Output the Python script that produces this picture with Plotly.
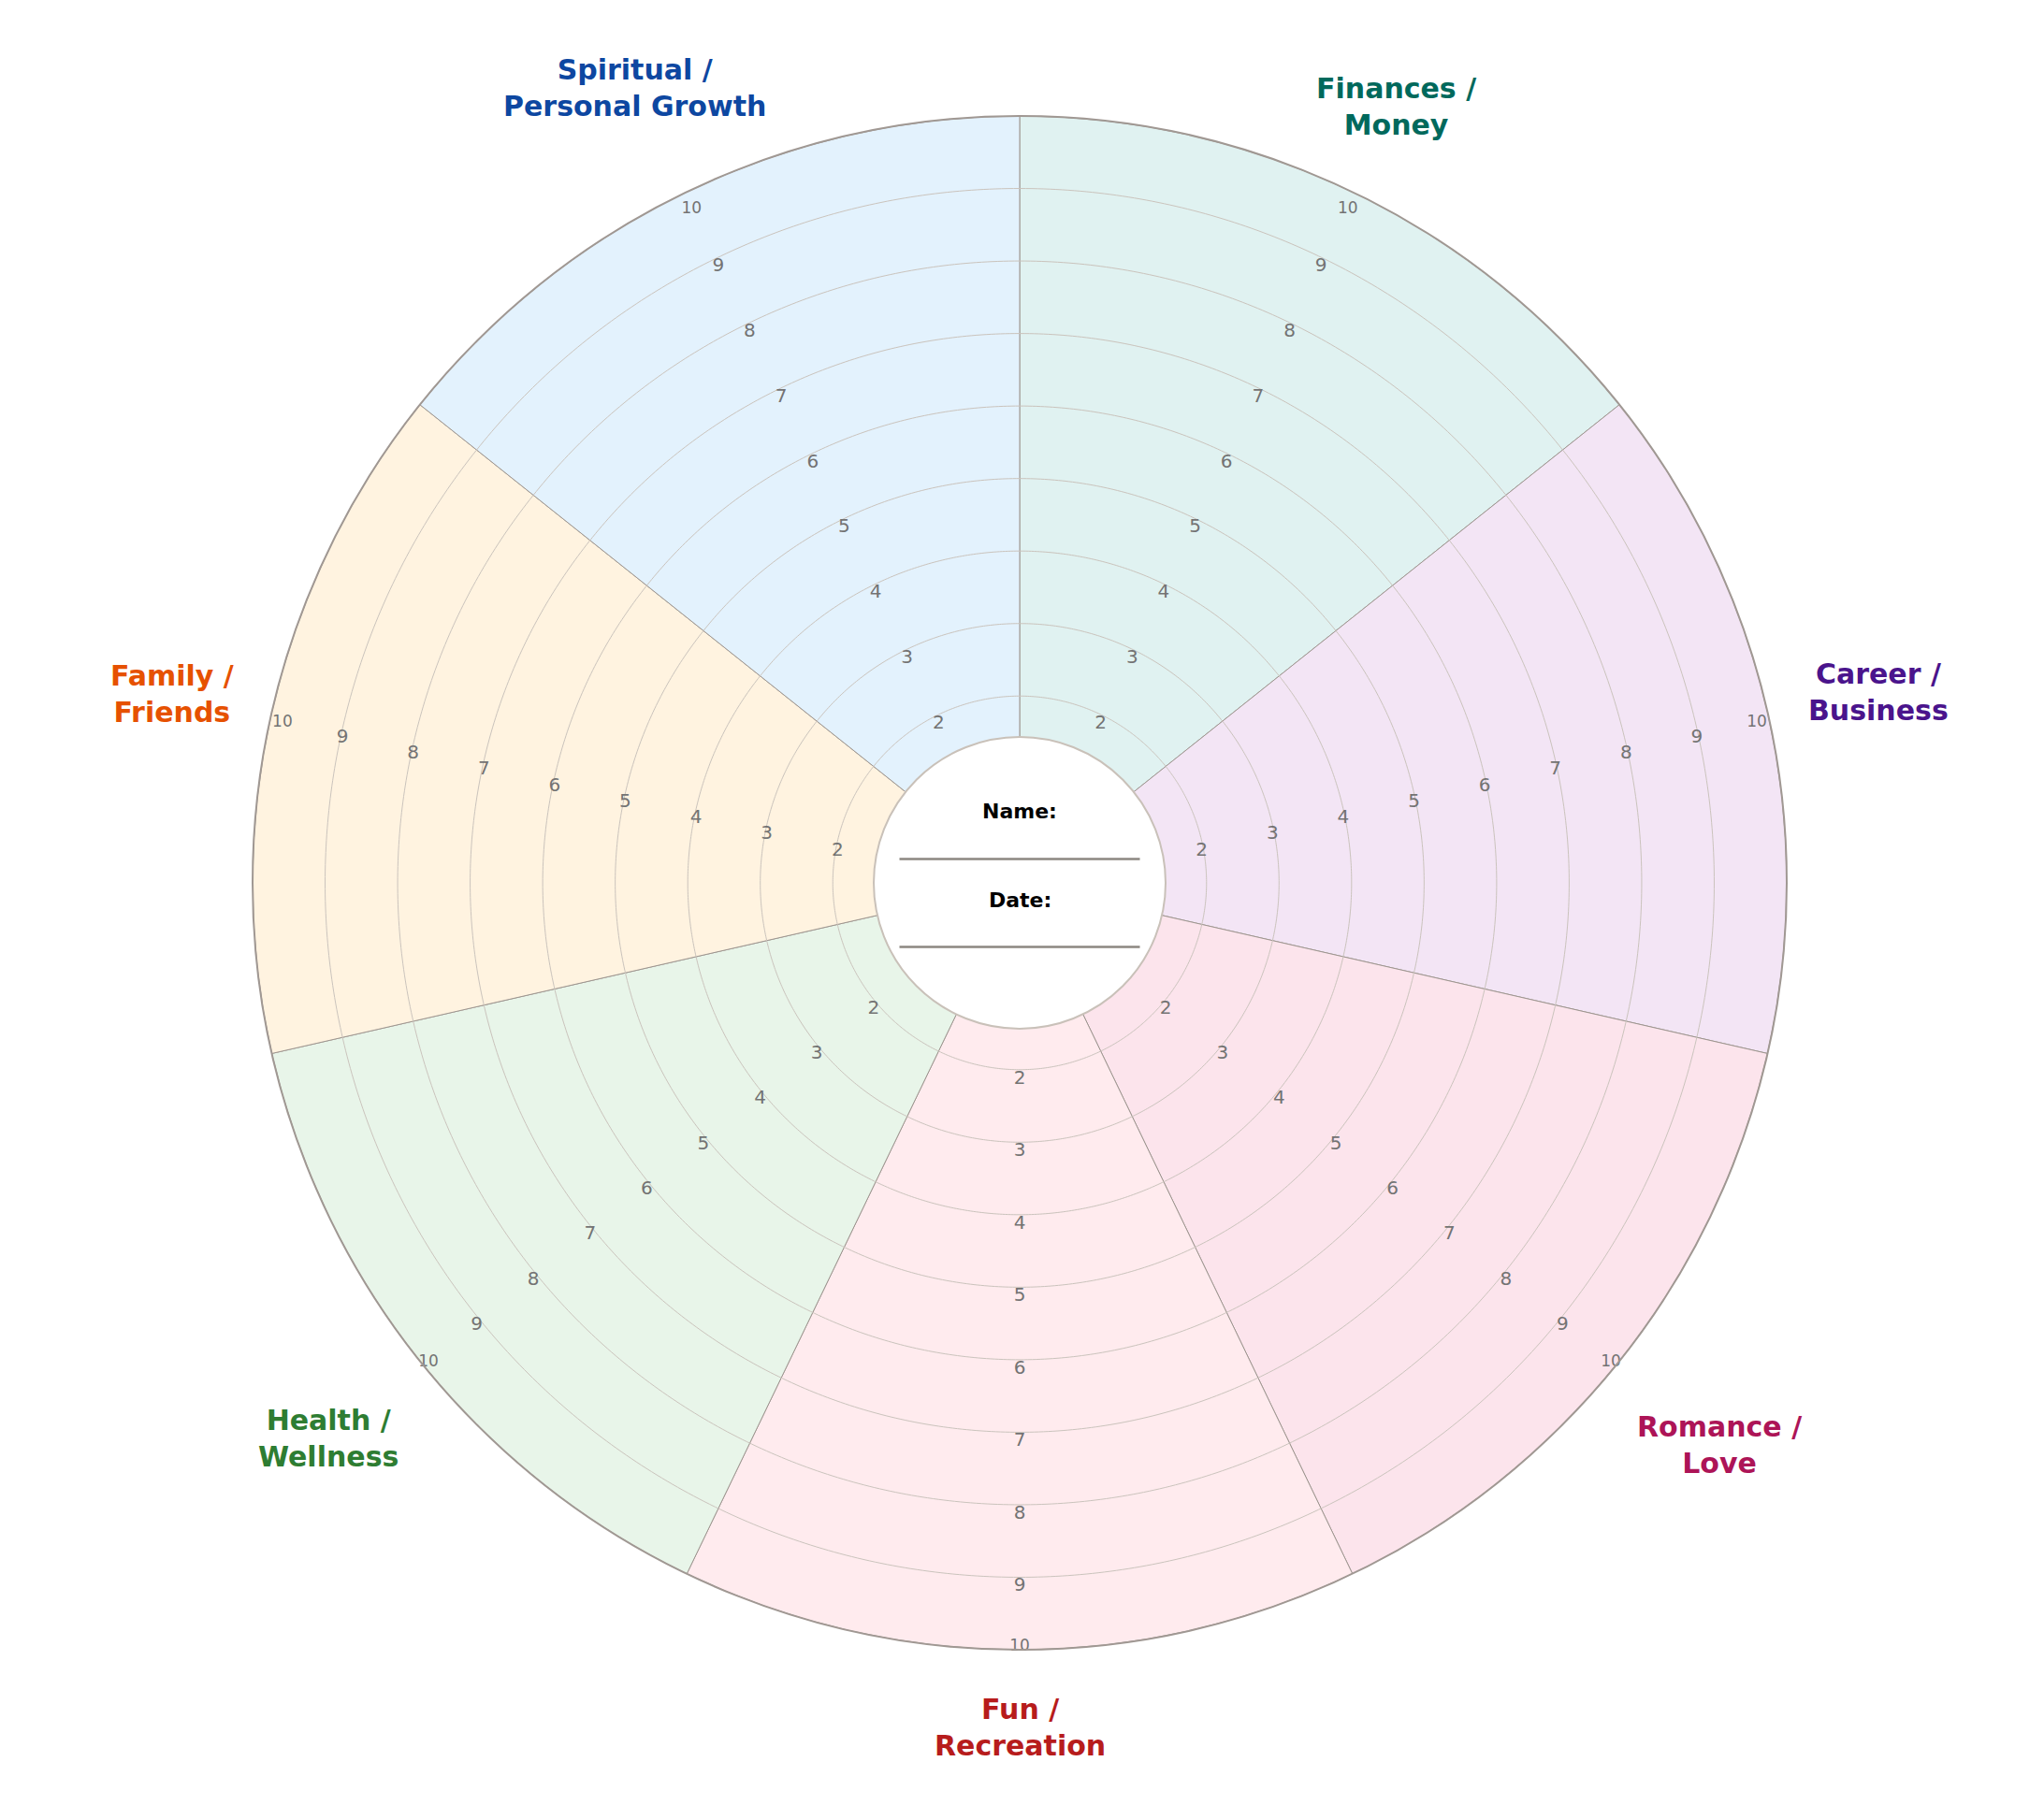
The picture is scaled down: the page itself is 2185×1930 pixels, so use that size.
import numpy as np
import plotly.graph_objects as go

# life areas, clockwise from 12 o'clock
CATEGORIES = [
    "Finances /<br>Money",
    "Career /<br>Business",
    "Romance /<br>Love",
    "Fun /<br>Recreation",
    "Health /<br>Wellness",
    "Family /<br>Friends",
    "Spiritual /<br>Personal Growth",
]
FILL_COLORS = ["#e0f2f1", "#f3e5f5", "#fce4ec", "#ffebee", "#e8f5e9", "#fff3e0", "#e3f2fd"]
LABEL_COLORS = ["#00695c", "#4a148c", "#ad1457", "#b71c1c", "#2e7d32", "#e65100", "#0d47a1"]
SCORE_MAX = 10
RING_VALUES = [2, 3, 4, 5, 6, 7, 8, 9]
TICK_LABELS = ["2", "3", "4", "5", "6", "7", "8", "9", "10"]

# layout tuning (label distance from centre, as a fraction of the outer radius)
LABEL_RADIUS = [1.130, 1.148, 1.166, 1.095, 1.152, 1.133, 1.157]
FONT = "DejaVu Sans"
W, H = 2185, 1930
# the page body adds 8px, so the margins are shifted to compensate
ML, MR, MT, MB = 262, 283, 116, 174
SIDE = W - ML - MR  # square plot area, px
LABEL_DROP = 5 / SIDE  # small downward nudge of the category labels

n = len(CATEGORIES)
step = 360 / n
theta_mid = [(i + 0.5) * step for i in range(n)]

fig = go.Figure()

# coloured sectors
fig.add_trace(go.Barpolar(
    r=[SCORE_MAX] * n,
    theta=theta_mid,
    width=[step] * n,
    marker=dict(color=FILL_COLORS, line=dict(color="#9e9690", width=1)),
    hoverinfo="skip",
    showlegend=False,
))

# score rings (drawn as traces so they sit on top of the fills)
circ = np.linspace(0, 360, 721)
ring_r, ring_t = [], []
for v in RING_VALUES:
    ring_r += [v] * len(circ) + [None]
    ring_t += list(circ) + [None]
fig.add_trace(go.Scatterpolar(
    r=ring_r, theta=ring_t, mode="lines",
    line=dict(color="#cac3bc", width=1),
    hoverinfo="skip", showlegend=False,
))

# score numbers along the middle of every sector (hung just below each ring)
lab_r, lab_t, lab_txt, lab_size = [], [], [], []
for t in theta_mid:
    for txt in TICK_LABELS:
        v = float(txt)
        lab_r.append(v - 0.15 if v == SCORE_MAX else v)
        lab_t.append(t)
        lab_txt.append(txt)
        lab_size.append(17 if v == SCORE_MAX else 20)
fig.add_trace(go.Scatterpolar(
    r=lab_r, theta=lab_t, text=lab_txt, mode="text",
    textposition="bottom center",
    textfont=dict(family=FONT, size=lab_size, color="#737373"),
    hoverinfo="skip", showlegend=False,
))

# category labels outside the wheel
annotations = []
for i, name in enumerate(CATEGORIES):
    a = np.deg2rad(90 - theta_mid[i])
    f = LABEL_RADIUS[i]
    annotations.append(dict(
        x=0.5 + 0.5 * f * np.cos(a), y=0.5 + 0.5 * f * np.sin(a) - LABEL_DROP,
        xref="paper", yref="paper", text=name, showarrow=False,
        xanchor="center", yanchor="middle", align="center",
        font=dict(family=FONT, size=30, color=LABEL_COLORS[i], weight="bold"),
    ))

# centre: name / date fields
annotations.append(dict(x=0.5, y=0.5 + 76.5 / SIDE, xref="paper", yref="paper",
                        text="Name:", showarrow=False,
                        font=dict(family=FONT, size=22, color="black", weight="bold")))
annotations.append(dict(x=0.5, y=0.5 - 18.5 / SIDE, xref="paper", yref="paper",
                        text="Date:", showarrow=False,
                        font=dict(family=FONT, size=22, color="black", weight="bold")))

cr = 156 / SIDE
half = 128.5 / SIDE
shapes = [
    dict(type="circle", xref="paper", yref="paper",
         x0=0.5 - cr, x1=0.5 + cr, y0=0.5 - cr, y1=0.5 + cr,
         fillcolor="white", line=dict(color="#c9c1b9", width=2)),
    dict(type="line", xref="paper", yref="paper",
         x0=0.5 - half, x1=0.5 + half, y0=0.5 + 25.5 / SIDE, y1=0.5 + 25.5 / SIDE,
         line=dict(color="#8c8781", width=2.5)),
    dict(type="line", xref="paper", yref="paper",
         x0=0.5 - half, x1=0.5 + half, y0=0.5 - 68.5 / SIDE, y1=0.5 - 68.5 / SIDE,
         line=dict(color="#8c8781", width=2.5)),
]

fig.update_layout(
    width=W, height=H,
    margin=dict(l=ML, r=MR, t=MT, b=MB, pad=0),
    paper_bgcolor="white",
    plot_bgcolor="white",
    showlegend=False,
    polar=dict(
        domain=dict(x=[0, 1], y=[0, 1]),
        hole=0.0545,
        bgcolor="white",
        radialaxis=dict(range=[0, SCORE_MAX], visible=False),
        angularaxis=dict(direction="clockwise", rotation=90,
                         showgrid=False, showticklabels=False, ticks="",
                         showline=True, linecolor="#a09893", linewidth=2),
    ),
    annotations=annotations,
    shapes=shapes,
)

fig.write_html("out.html")
